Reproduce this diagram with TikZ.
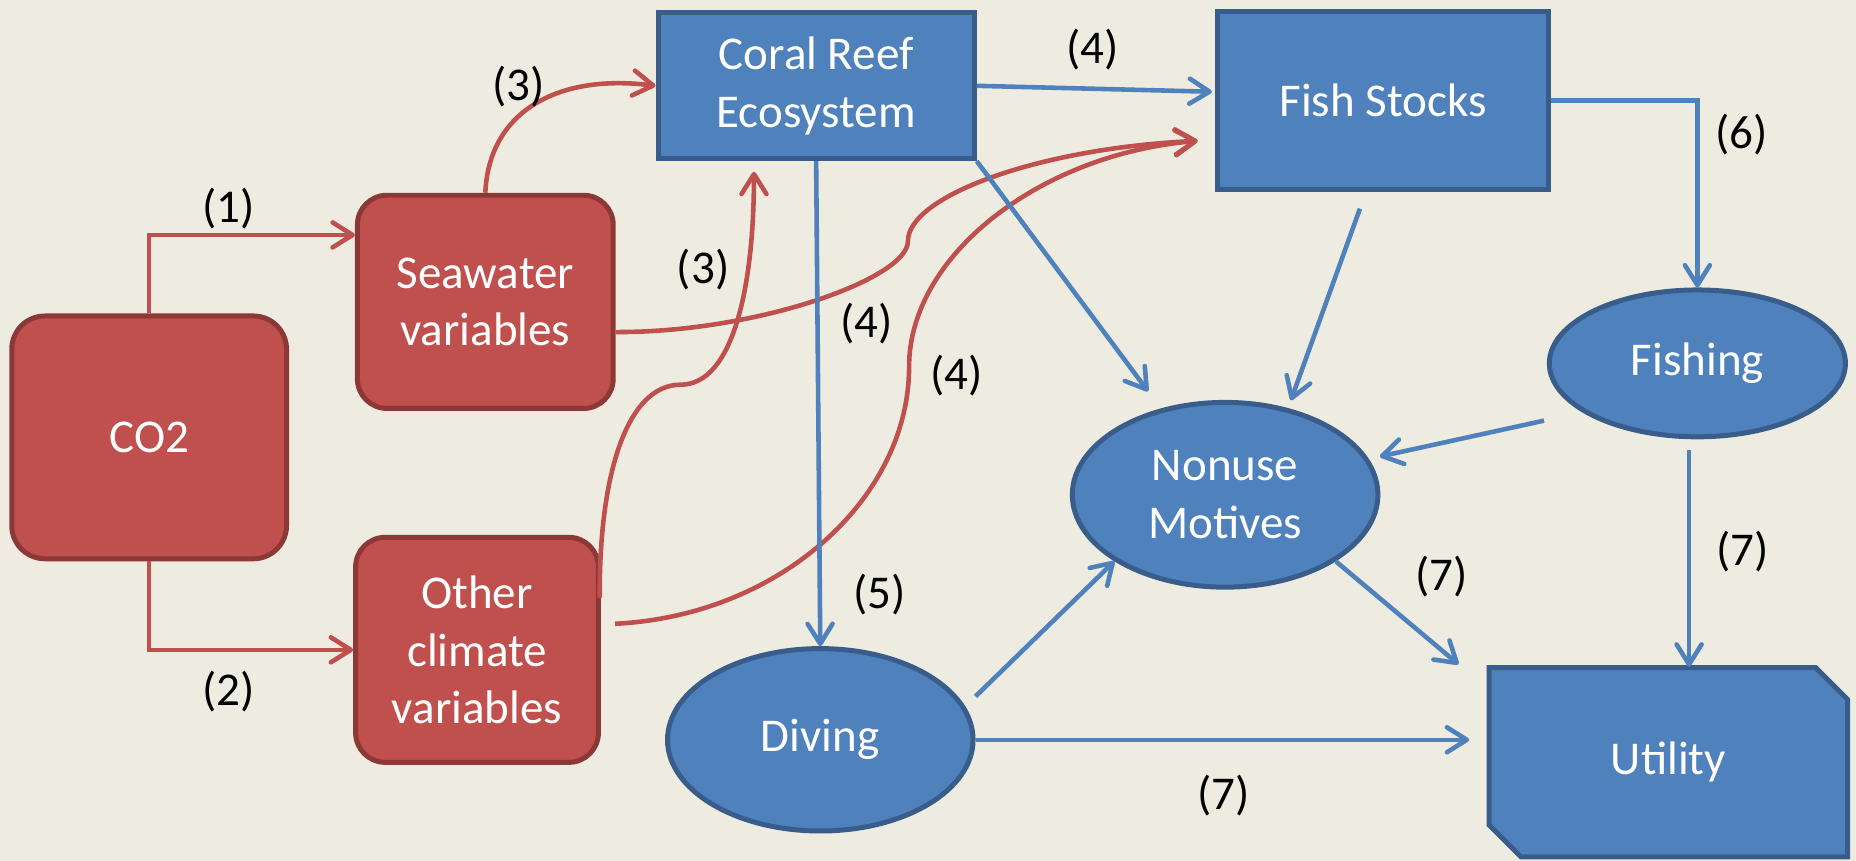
\documentclass[tikz,border=0pt]{standalone}
\usepackage{fontspec}
\setmainfont{Carlito}
\usetikzlibrary{arrows.meta,shapes.geometric}
\definecolor{bgc}{HTML}{EEECE1}
\definecolor{redf}{HTML}{C0504D}
\definecolor{redd}{HTML}{8C3836}
\definecolor{bluef}{HTML}{4F81BD}
\definecolor{blued}{HTML}{385D8A}
\tikzset{
 txt/.style={text=white, align=center, font=\fontsize{11.3}{13.8}\selectfont, inner sep=0pt},
 redbox/.style={txt, draw=redd, fill=redf, line width=1.2pt, rounded corners=0.25cm},
 bluebox/.style={txt, draw=blued, fill=bluef, line width=1.2pt},
 blueell/.style={txt, ellipse, draw=blued, fill=bluef, line width=1.2pt},
 arr/.style={line width=1.1pt, -{Straight Barb[length=4.8pt,width=6pt,round]}},
 redarr/.style={arr, draw=redf},
 bluearr/.style={arr, draw=bluef},
 lbl/.style={font=\fontsize{11.3}{13.8}\selectfont, text=black, inner sep=0pt}
}
\begin{document}
\begin{tikzpicture}[x=0.01cm,y=-0.01cm]
\fill[bgc] (0,0) rectangle (1568,727);
\useasboundingbox (0,0) rectangle (1568,727);

% nodes
\node[redbox, minimum width=2.32cm, minimum height=2.05cm, rounded corners=0.28cm] (co2) at (126,369.5) {CO2};
\node[redbox, minimum width=2.16cm, minimum height=1.80cm] (sea) at (410,255) {Seawater\\variables};
\node[redbox, minimum width=2.05cm, minimum height=1.90cm] (oth) at (403,549) {Other\\climate\\variables};
\node[bluebox, minimum width=2.67cm, minimum height=1.23cm] (coral) at (689.5,72.5) {Coral Reef\\Ecosystem};
\node[bluebox, minimum width=2.79cm, minimum height=1.50cm] (fish) at (1168.5,85) {Fish Stocks};
\node[blueell, minimum width=2.50cm, minimum height=1.24cm] (fishing) at (1434,307) {Fishing};
\node[blueell, minimum width=2.58cm, minimum height=1.56cm] (nonuse) at (1035,418) {Nonuse\\Motives};
\node[blueell, minimum width=2.58cm, minimum height=1.54cm] (diving) at (693,625) {Diving};
\draw[draw=blued, fill=bluef, line width=1.2pt] (1258,564) -- (1534,564) -- (1561,591) -- (1561,724) -- (1285,724) -- (1258,697) -- cycle;
\node[txt, minimum width=3.03cm, minimum height=1.60cm] (util) at (1409.5,644) {Utility};

% red connectors
\draw[redarr] (co2.north) |- ([yshift=0.565cm]sea.west);
\draw[redarr] (co2.south) |- (oth.west);
\draw[redarr] (sea.north) .. controls (413,95) and (470,62) .. (coral.west);
\draw[redarr] ([yshift=-0.255cm]sea.east) .. controls (640,281) and (767,235) .. (767,204)
   .. controls (767,165) and (880,125) .. ([xshift=-0.15cm,yshift=-0.34cm]fish.west);
\draw[redarr] ([xshift=-0.01cm,yshift=0.44cm]oth.east) .. controls (506,400) and (530,325) .. (575,325)
   .. controls (620,325) and (637,240) .. ([xshift=-0.525cm,yshift=-0.09cm]coral.south);
\draw[redarr] ([xshift=0.12cm,yshift=0.22cm]oth.east) .. controls (660,520) and (768,420) .. (768,310)
   .. controls (768,215) and (880,130) .. ([xshift=-0.15cm,yshift=-0.34cm]fish.west);

% blue connectors
\draw[bluearr] (coral.east) -- ([xshift=-0.03cm,yshift=0.075cm]fish.west);
\draw[bluearr] (coral.south) -- (diving.north);
\draw[bluearr, shorten >=0.18cm] (coral.south east) -- (nonuse);
\draw[bluearr, shorten <=0.15cm, shorten >=0.07cm] ([xshift=-0.145cm]fish.south) -- (nonuse.54);
\draw[bluearr] (fish.east) -| (fishing.north);
\draw[bluearr, shorten <=0.33cm, shorten >=0.095cm] (fishing.203) -- (nonuse.14);
\draw[bluearr, shorten <=0.09cm] ([xshift=-0.07cm]fishing.south) -- ([xshift=-0.07cm]fishing.south |- util.north);
\draw[bluearr] (nonuse.-31) -- ([xshift=-0.25cm,yshift=0.02cm]util.north west);
\draw[bluearr, shorten <=0.12cm] (diving.13) -- (nonuse.211);
\draw[bluearr, shorten >=0.16cm] (diving.east) -- (diving.east -| util.west);

% labels
\node[lbl] (l1) at (193,176) {(1)};
\node[lbl] (l2) at (193,584) {(2)};
\node[lbl] (l3a) at (438,73) {(3)};
\node[lbl] (l3b) at (594,228) {(3)};
\node[lbl] (l4a) at (923,42) {(4)};
\node[lbl] (l4b) at (732,273) {(4)};
\node[lbl] (l4c) at (808,317) {(4)};
\node[lbl] (l5) at (743,502) {(5)};
\node[lbl] (l6) at (1471,114) {(6)};
\node[lbl] (l7a) at (1472,466) {(7)};
\node[lbl] (l7b) at (1218,487) {(7)};
\node[lbl] (l7c) at (1034,672) {(7)};
\end{tikzpicture}
\end{document}
